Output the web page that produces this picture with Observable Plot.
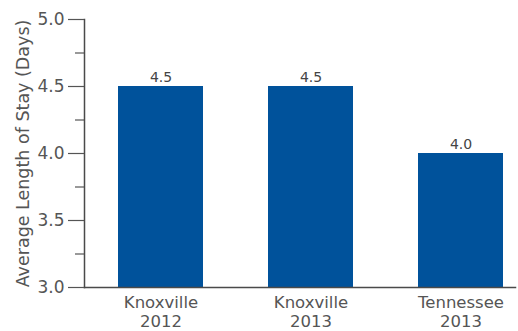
<!DOCTYPE html>
<html>
<head>
<meta charset="utf-8">
<script src="https://cdn.jsdelivr.net/npm/d3@7"></script>
<script src="https://cdn.jsdelivr.net/npm/@observablehq/plot@0.6"></script>
<style>
  body { margin: 0; background: #fff; }
  svg { font-family: "DejaVu Sans", sans-serif; }
</style>
</head>
<body>
<div id="chart"></div>
<script>
const categories = ["Knoxville\n2012", "Knoxville\n2013", "Tennessee\n2013"];
const values = [4.5, 4.5, 4.0];
const valueLabels = ["4.5", "4.5", "4.0"];
const majorTicks = [3.0, 3.5, 4.0, 4.5, 5.0];
const minorTicks = [3.25, 3.75, 4.25, 4.75];
const yTitle = "Average Length of Stay (Days)";

const data = categories.map((c, i) => ({cat: c, value: values[i], label: valueLabels[i]}));
const gray = "#555";
const blue = "#00529b";

const chart = Plot.plot({
  width: 518,
  height: 331,
  marginTop: 19,
  marginBottom: 44,
  marginLeft: 84,
  marginRight: 3,
  style: {fontFamily: "DejaVu Sans, sans-serif", color: gray, background: "#fff"},
  x: {domain: categories, range: [84, 536], paddingInner: 0.435, paddingOuter: 0.22},
  y: {domain: [3, 5]},
  marks: [
    Plot.barY(data, {x: "cat", y1: 3, y2: "value", fill: blue}),
    Plot.text(data, {x: "cat", y: "value", text: "label", dy: -9, fontSize: 14, fill: "#444"}),
    Plot.frame({anchor: "bottom", stroke: "#4a4a4a", strokeWidth: 1.5}),
    Plot.frame({anchor: "left", stroke: "#4a4a4a", strokeWidth: 1.5}),
    Plot.axisY(majorTicks, {tickSize: 16, tickPadding: 4, fontSize: 17, tickFormat: d => d.toFixed(1), stroke: gray, fill: gray, strokeWidth: 1.2,
      label: yTitle, labelAnchor: "center", labelOffset: 68, labelArrow: "none"}),
    Plot.axisY(minorTicks, {tickSize: 9, tickFormat: () => "", stroke: gray, strokeWidth: 1.2, label: null}),
    Plot.axisX({tickSize: 0, tickPadding: 6, fontSize: 16.5, lineHeight: 1.2, fill: gray, label: null})
  ]
});
chart.querySelectorAll("g[aria-label='y-axis label'] text").forEach(t => t.setAttribute("font-size", 17.5));
document.getElementById("chart").appendChild(chart);
</script>
</body>
</html>
